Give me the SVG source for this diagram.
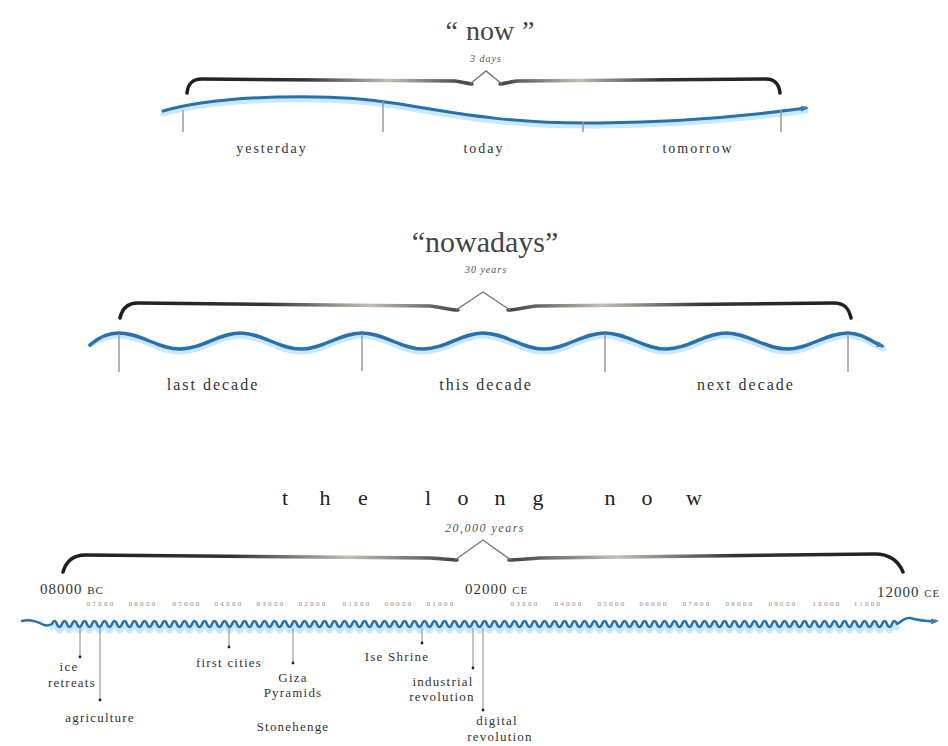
<svg xmlns="http://www.w3.org/2000/svg" width="948" height="746" viewBox="0 0 948 746">
<defs>
<style>
text{font-family:"Liberation Serif","DejaVu Serif",serif;fill:#333}
.mid{text-anchor:middle}
.big{font-size:28px;fill:#444}
.sub{font-size:10px;font-style:italic;letter-spacing:1px;fill:#555}
.l1{font-size:14px;letter-spacing:2px}
.l2{font-size:16px;letter-spacing:2px}
.ev{font-size:13px;letter-spacing:1.2px}
.yr{font-size:15px;letter-spacing:1px;fill:#333}
.sc{font-size:11px;letter-spacing:1px}
.tk{font-size:7px;letter-spacing:2.3px;fill:#8a8a8a}
.arm{fill:none;stroke:url(#gBrace);stroke-width:3.5;stroke-linecap:round;stroke-linejoin:round}
.caret{fill:none;stroke:#777;stroke-width:1.4}
.glow{fill:none;stroke:#cbe7f8;stroke-width:5;stroke-linecap:round}
.wave{fill:none;stroke:#2671ae;stroke-linecap:round;stroke-linejoin:round}
.tick{stroke:#9a9a9a;stroke-width:1.5}
.evl{stroke:#8a8a8a;stroke-width:1}
.dot{fill:#222}
</style>
<linearGradient id="gBrace" x1="0" y1="0" x2="1" y2="0">
<stop offset="0" stop-color="#1e1e1e"/>
<stop offset="0.2" stop-color="#333"/>
<stop offset="0.34" stop-color="#c4beb8"/>
<stop offset="0.46" stop-color="#4a4a4a"/>
<stop offset="0.54" stop-color="#4a4a4a"/>
<stop offset="0.66" stop-color="#c4beb8"/>
<stop offset="0.8" stop-color="#333"/>
<stop offset="1" stop-color="#1e1e1e"/>
</linearGradient>
<linearGradient id="gTopWave" x1="0" y1="0" x2="1" y2="0">
<stop offset="0" stop-color="#9fcbe8"/>
<stop offset="0.12" stop-color="#3a7aab"/>
<stop offset="0.5" stop-color="#1d5585"/>
<stop offset="0.88" stop-color="#3a7db3"/>
<stop offset="1" stop-color="#6aa6d3"/>
</linearGradient>
<marker id="arrBlue" viewBox="0 0 8 6" markerWidth="8" markerHeight="6" refX="5" refY="3" orient="auto" markerUnits="userSpaceOnUse">
<path d="M0,0 L8,3 L0,6 z" fill="#3a7db3"/>
</marker>
</defs>

<rect width="948" height="746" fill="#ffffff"/>

<!-- ===== NOW ===== -->
<g id="now-title">
<text class="big mid" x="490" y="40">“<tspan dx="8">now</tspan><tspan dx="8">”</tspan></text>
<text class="sub mid" x="486" y="62">3 days</text>
</g>
<g id="now-brace">
<path class="arm" d="M187,93 C188,84 192,79 202,79 L455,81 C463,82 468,84 472,84 M500,84 C504,84 509,82 517,81 L766,79 C775,79 779,84 780,93"/>
<path class="caret" d="M470,84 L486,71 L502,84"/>
</g>
<g id="now-wave">
<path class="glow" d="M163,114 C220,98 330,95 400,107 C470,119 520,127 600,126 C680,125 740,120 806,111"/>
<path class="wave" stroke="url(#gTopWave)" stroke-width="3" d="M163,111 C220,95 330,92 400,104 C470,116 520,124 600,123 C680,122 740,117 806,108" marker-end="url(#arrBlue)"/>
</g>
<g id="now-yesterday"><text class="l1 mid" x="272" y="153">yesterday</text></g>
<g id="now-today"><text class="l1 mid" x="484" y="153">today</text></g>
<g id="now-tomorrow"><text class="l1 mid" x="698" y="153">tomorrow</text></g>

<!-- ===== NOWADAYS ===== -->
<g id="nowadays-title">
<text class="mid" x="485" y="252" style="font-size:30px;fill:#444">“nowadays”</text>
<text class="sub mid" x="486" y="273">30 years</text>
</g>
<g id="nowadays-brace">
<path class="arm" d="M120,318 C122,309 127,303 138,303 L430,306 C445,308 452,310 458,310 M508,310 C514,310 521,308 536,306 L834,303 C845,303 849,309 851,318"/>
<path class="caret" d="M456,310 L483,292 L510,310"/>
</g>
<g id="nowadays-wave">
<path class="glow" transform="translate(0,3)" d="M90,342 C100,336 110,333 119,333 C141,333 158,349 180,349 C202,349 219,333 240,333 C262,333 279,349 301,349 C323,349 340,333 362,333 C384,333 401,349 423,349 C445,349 462,333 483,333 C505,333 522,349 544,349 C566,349 583,333 605,333 C627,333 644,349 666,349 C688,349 705,333 726,333 C748,333 765,349 787,349 C809,349 826,333 848,333 C862,333 872,342 884,346"/>
<path class="wave" stroke-width="3.5" d="M90,345 C100,336 110,333 119,333 C141,333 158,349 180,349 C202,349 219,333 240,333 C262,333 279,349 301,349 C323,349 340,333 362,333 C384,333 401,349 423,349 C445,349 462,333 483,333 C505,333 522,349 544,349 C566,349 583,333 605,333 C627,333 644,349 666,349 C688,349 705,333 726,333 C748,333 765,349 787,349 C809,349 826,333 848,333 C862,333 872,342 882,346" marker-end="url(#arrBlue)"/>
</g>
<g id="nowadays-last"><text class="l2 mid" x="213" y="390">last decade</text></g>
<g id="nowadays-this"><text class="l2 mid" x="486" y="390">this decade</text></g>
<g id="nowadays-next"><text class="l2 mid" x="746" y="390">next decade</text></g>

<!-- ===== THE LONG NOW ===== -->
<g id="longnow-title">
<text class="mid" x="285 325 363 395 428 463 500 538 574 610 647 694" y="505" style="font-size:22px;fill:#222">the long now</text>
<text class="mid" x="485" y="532" style="font-size:12px;font-style:italic;letter-spacing:1.5px;fill:#555">20,000 years</text>
</g>
<g id="longnow-brace">
<path class="arm" d="M63,572 C66,562 72,555 85,555 L430,558 C445,559 452,560 457,560 M509,560 C515,560 525,559 540,558 L875,554 C888,554 898,560 903,572"/>
<path class="caret" d="M455,560 L483,540 L511,560"/>
</g>
<g id="longnow-years">
<text class="yr" x="40" y="594">08000 <tspan class="sc">BC</tspan></text>
<text class="yr" x="465" y="594">02000 <tspan class="sc">CE</tspan></text>
<text class="yr" x="877" y="597">12000 <tspan class="sc">CE</tspan></text>
</g>
<g id="longnow-scale">
<text class="tk mid" x="101" y="606">07000</text>
<text class="tk mid" x="143" y="606">06000</text>
<text class="tk mid" x="187" y="606">05000</text>
<text class="tk mid" x="229" y="606">04000</text>
<text class="tk mid" x="271" y="606">03000</text>
<text class="tk mid" x="313" y="606">02000</text>
<text class="tk mid" x="357" y="606">01000</text>
<text class="tk mid" x="399" y="606">00000</text>
<text class="tk mid" x="441" y="606">01000</text>
<text class="tk mid" x="525" y="606">03000</text>
<text class="tk mid" x="569" y="606">04000</text>
<text class="tk mid" x="612" y="606">05000</text>
<text class="tk mid" x="654" y="606">06000</text>
<text class="tk mid" x="697" y="606">07000</text>
<text class="tk mid" x="740" y="606">08000</text>
<text class="tk mid" x="783" y="606">09000</text>
<text class="tk mid" x="827" y="606">10000</text>
<text class="tk mid" x="868" y="606">11000</text>
</g>
<g id="longnow-wave">
<path class="glow" stroke-width="4" transform="translate(0,4)" d="M52,624 q2.5,-6 5,0 t5,0t5,0t5,0t5,0t5,0t5,0t5,0t5,0t5,0t5,0 t5,0t5,0t5,0t5,0t5,0t5,0t5,0t5,0t5,0t5,0 t5,0t5,0t5,0t5,0t5,0t5,0t5,0t5,0t5,0t5,0 t5,0t5,0t5,0t5,0t5,0t5,0t5,0t5,0t5,0t5,0 t5,0t5,0t5,0t5,0t5,0t5,0t5,0t5,0t5,0t5,0 t5,0t5,0t5,0t5,0t5,0t5,0t5,0t5,0t5,0t5,0 t5,0t5,0t5,0t5,0t5,0t5,0t5,0t5,0t5,0t5,0 t5,0t5,0t5,0t5,0t5,0t5,0t5,0t5,0t5,0t5,0 t5,0t5,0t5,0t5,0t5,0t5,0t5,0t5,0t5,0t5,0 t5,0t5,0t5,0t5,0t5,0t5,0t5,0t5,0t5,0t5,0 t5,0t5,0t5,0t5,0t5,0t5,0t5,0t5,0t5,0t5,0 t5,0t5,0t5,0t5,0t5,0t5,0t5,0t5,0t5,0t5,0 t5,0t5,0t5,0t5,0t5,0t5,0t5,0t5,0t5,0t5,0 t5,0t5,0t5,0t5,0t5,0t5,0t5,0t5,0t5,0t5,0 t5,0t5,0t5,0t5,0t5,0t5,0t5,0t5,0t5,0t5,0 t5,0t5,0t5,0t5,0t5,0t5,0t5,0t5,0t5,0t5,0 t5,0t5,0t5,0t5,0t5,0t5,0t5,0t5,0"/>
<path class="wave" stroke-width="2.5" d="M22,621 C30,619 38,622 44,625 C47,626 50,625 52,624 q2.5,-6 5,0 t5,0t5,0t5,0t5,0t5,0t5,0t5,0t5,0t5,0t5,0 t5,0t5,0t5,0t5,0t5,0t5,0t5,0t5,0t5,0t5,0 t5,0t5,0t5,0t5,0t5,0t5,0t5,0t5,0t5,0t5,0 t5,0t5,0t5,0t5,0t5,0t5,0t5,0t5,0t5,0t5,0 t5,0t5,0t5,0t5,0t5,0t5,0t5,0t5,0t5,0t5,0 t5,0t5,0t5,0t5,0t5,0t5,0t5,0t5,0t5,0t5,0 t5,0t5,0t5,0t5,0t5,0t5,0t5,0t5,0t5,0t5,0 t5,0t5,0t5,0t5,0t5,0t5,0t5,0t5,0t5,0t5,0 t5,0t5,0t5,0t5,0t5,0t5,0t5,0t5,0t5,0t5,0 t5,0t5,0t5,0t5,0t5,0t5,0t5,0t5,0t5,0t5,0 t5,0t5,0t5,0t5,0t5,0t5,0t5,0t5,0t5,0t5,0 t5,0t5,0t5,0t5,0t5,0t5,0t5,0t5,0t5,0t5,0 t5,0t5,0t5,0t5,0t5,0t5,0t5,0t5,0t5,0t5,0 t5,0t5,0t5,0t5,0t5,0t5,0t5,0t5,0t5,0t5,0 t5,0t5,0t5,0t5,0t5,0t5,0t5,0t5,0t5,0t5,0 t5,0t5,0t5,0t5,0t5,0t5,0t5,0t5,0t5,0t5,0 t5,0t5,0t5,0t5,0t5,0t5,0t5,0t5,0 C902,621 905,617 910,618 C918,620 926,622 936,621" marker-end="url(#arrBlue)"/>
</g>

<!-- events -->
<g id="ev-ice"><text class="ev mid" x="69" y="671">ice</text><text class="ev mid" x="72" y="687">retreats</text></g>
<g id="ev-agriculture"><text class="ev mid" x="100" y="722">agriculture</text></g>
<g id="ev-cities"><text class="ev mid" x="229" y="667">first cities</text></g>
<g id="ev-giza"><text class="ev mid" x="293" y="682">Giza</text><text class="ev mid" x="293" y="697">Pyramids</text></g>
<g id="ev-stonehenge"><text class="ev mid" x="293" y="731">Stonehenge</text></g>
<g id="ev-ise"><text class="ev mid" x="397" y="661">Ise Shrine</text></g>
<g id="ev-industrial"><text class="ev mid" x="443" y="686">industrial</text><text class="ev mid" x="442" y="701">revolution</text></g>
<g id="ev-digital"><text class="ev mid" x="497" y="725">digital</text><text class="ev mid" x="500" y="741">revolution</text></g>

<!-- connectors: ticks and event leaders -->
<g id="connectors">
<line class="tick" x1="183" y1="110" x2="183" y2="132"/>
<line class="tick" x1="383" y1="101" x2="383" y2="132"/>
<line class="tick" x1="583" y1="122" x2="583" y2="132"/>
<line class="tick" x1="781" y1="110" x2="781" y2="132" stroke="#bbb"/>
<line class="tick" x1="119" y1="334" x2="119" y2="372"/>
<line class="tick" x1="362" y1="334" x2="362" y2="371"/>
<line class="tick" x1="605" y1="334" x2="605" y2="372"/>
<line class="tick" x1="848" y1="334" x2="848" y2="372" stroke="#bbb"/>
<line class="evl" x1="80" y1="628" x2="80" y2="657"/><circle class="dot" cx="80" cy="657" r="1.4"/>
<line class="evl" x1="100" y1="628" x2="100" y2="700"/><circle class="dot" cx="100" cy="700" r="1.4"/>
<line class="evl" x1="229" y1="628" x2="229" y2="647"/><circle class="dot" cx="229" cy="647" r="1.4"/>
<line class="evl" x1="293" y1="628" x2="293" y2="663"/><circle class="dot" cx="293" cy="663" r="1.4"/>
<line class="evl" x1="422" y1="628" x2="422" y2="643"/><circle class="dot" cx="422" cy="643" r="1.4"/>
<line class="evl" x1="473" y1="628" x2="473" y2="668"/><circle class="dot" cx="473" cy="668" r="1.4"/>
<line class="evl" x1="483" y1="628" x2="483" y2="710"/><circle class="dot" cx="483" cy="710" r="1.4"/>
</g>
</svg>
